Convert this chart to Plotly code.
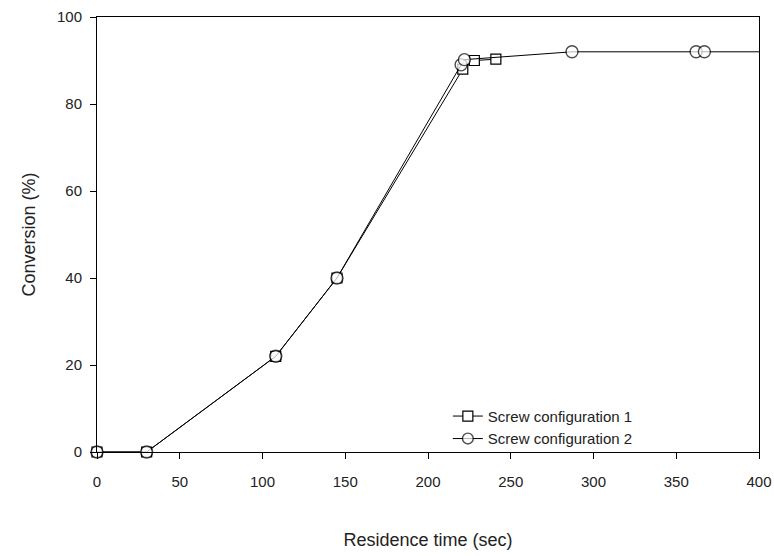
import plotly.graph_objects as go

# Screw configuration 1 (squares)
time_1 = [0, 30, 108, 145, 221, 228, 241]
conv_1 = [0, 0, 22, 40, 88, 90, 90.3]

# Screw configuration 2 (circles); last point is where the line meets the frame
time_2 = [0, 30, 108, 145, 220, 222, 287, 362, 367, 400]
conv_2 = [0, 0, 22, 40, 89, 90.2, 92, 92, 92, 92]

x_ticks = [0, 50, 100, 150, 200, 250, 300, 350, 400]
y_ticks = [0, 20, 40, 60, 80, 100]

font = "Liberation Sans, Arial, sans-serif"

fig = go.Figure()
fig.add_trace(go.Scatter(
    x=time_1, y=conv_1, mode="lines+markers", name="Screw configuration 1",
    line=dict(color="black", width=1),
    marker=dict(symbol="square", size=10, color="white",
                line=dict(color="black", width=1.2)),
    cliponaxis=False,
))
sizes2 = [12] * (len(time_2) - 1) + [0]
fig.add_trace(go.Scatter(
    x=time_2, y=conv_2, mode="lines+markers", name="Screw configuration 2",
    line=dict(color="black", width=1),
    marker=dict(symbol="circle", size=sizes2, color="white",
                line=dict(color="black", width=1.4)),
    cliponaxis=False,
))

axis_common = dict(
    showline=True, linecolor="black", linewidth=1, mirror=True,
    ticks="outside", ticklen=6, tickcolor="black", tickwidth=1,
    showgrid=False, zeroline=False, automargin=False,
    tickfont=dict(family=font, size=15, color="#222"),
)

fig.update_layout(
    width=774, height=556,
    margin=dict(l=97, r=15, t=17, b=104),
    paper_bgcolor="white", plot_bgcolor="white",
    font=dict(family=font, color="#222"),
    xaxis=dict(range=[0, 400], tickvals=x_ticks,
               ticktext=[str(v) for v in x_ticks],
               ticklabelstandoff=10,
               title=dict(text="Residence time (sec)", font=dict(family=font, size=18), standoff=44),
               **axis_common),
    yaxis=dict(range=[0, 100], tickvals=y_ticks,
               ticktext=[str(v) for v in y_ticks],
               ticklabelstandoff=5,
               title=dict(text="Conversion (%)", font=dict(family=font, size=18), standoff=16),
               **axis_common),
    legend=dict(x=0.530, y=0.12, xanchor="left", yanchor="top",
                bgcolor="rgba(0,0,0,0)", font=dict(family=font, size=15, color="#222"),
                tracegroupgap=0),
    showlegend=True,
)

fig.write_html("out.html")
